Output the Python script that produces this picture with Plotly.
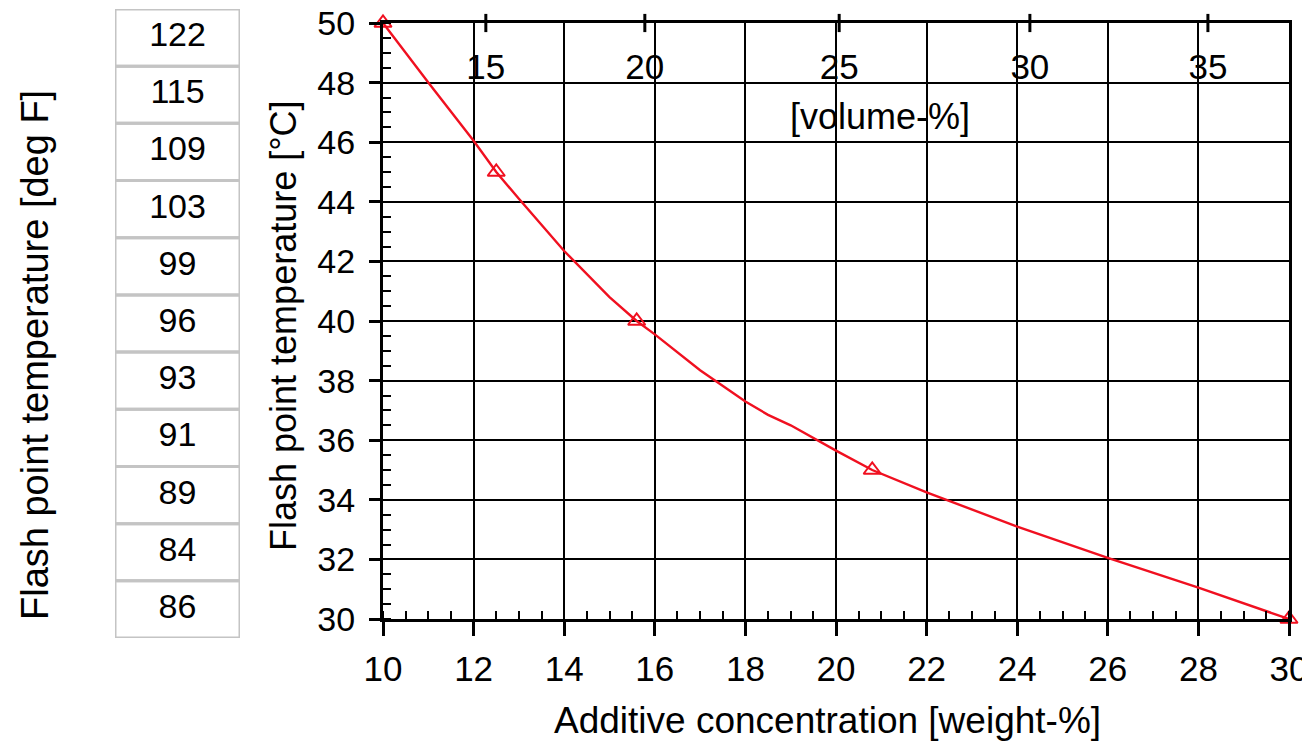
import plotly.graph_objects as go

# ---- data ----
curve_wt = [10, 11, 12, 12.5, 13, 14, 15, 15.6, 16, 17, 18, 18.5, 19, 20, 20.8, 22, 24, 26, 28, 30]
curve_temp = [50, 48, 46.05, 45, 44.1, 42.35, 40.8, 40, 39.55, 38.35, 37.3, 36.85, 36.5, 35.65, 35,
              34.25, 33.1, 32.05, 31.05, 30]
marker_wt = [10, 12.5, 15.6, 20.8, 30]
marker_temp = [50, 45, 40, 35, 30]
vol_labels = ["15", "20", "25", "30", "35"]
vol_pos_wt = [12.27, 15.78, 20.07, 24.28, 28.21]
degF_values = [122, 115, 109, 103, 99, 96, 93, 91, 89, 84, 86]

FONT = "Liberation Sans, Arial, sans-serif"
NARROW = "Liberation Sans Narrow, Arial Narrow, Liberation Sans, Arial, sans-serif"

# the page body has an 8px margin; lay the figure out in the visible area
OFF = 8
W, H = 1310 - OFF, 742 - OFF


def px(x):
    return min(1.0, max(0.0, (x - OFF) / W))


def py(y):
    return min(1.0, max(0.0, 1 - (y - OFF) / H))


RED = "#f01020"
fig = go.Figure()

# main curve
fig.add_trace(go.Scatter(x=curve_wt, y=curve_temp, mode="lines",
                         line=dict(color=RED, width=2.4), hoverinfo="skip",
                         showlegend=False, cliponaxis=False))
fig.add_trace(go.Scatter(x=marker_wt, y=marker_temp, mode="markers",
                         marker=dict(symbol="triangle-up-open", size=15,
                                     color=RED, line=dict(width=2, color=RED)),
                         showlegend=False, cliponaxis=False))

# volume-% ticks ("+" marks on the top border) and labels
fig.add_trace(go.Scatter(x=vol_pos_wt, y=[50] * len(vol_pos_wt), mode="markers",
                         marker=dict(symbol="line-ns", size=13,
                                     line=dict(width=3, color="black")),
                         showlegend=False, cliponaxis=False, hoverinfo="skip"))
fig.add_trace(go.Scatter(x=vol_pos_wt, y=[48.42] * len(vol_pos_wt), mode="text",
                         text=vol_labels, textposition="middle center",
                         textfont=dict(family=FONT, size=35, color="black"),
                         showlegend=False, hoverinfo="skip"))

# deg F table
rows = list(range(len(degF_values)))
fig.add_trace(go.Scatter(x=[0.5] * len(rows), y=[r + 0.5 for r in rows], mode="text",
                         text=[str(v) for v in degF_values], textposition="middle center",
                         textfont=dict(family=NARROW, size=34, color="black"),
                         xaxis="x3", yaxis="y3", showlegend=False, hoverinfo="skip"))
shapes = []
for r in rows:
    shapes.append(dict(type="rect", xref="x3", yref="y3", x0=0, x1=1, y0=r, y1=r + 1,
                       line=dict(color="#c4c4c4", width=3), layer="above"))

xdom = [px(383), px(1289)]
ydom = [py(619), py(23)]

fig.update_layout(
    width=W, height=H,
    margin=dict(l=0, r=0, t=0, b=0),
    paper_bgcolor="white", plot_bgcolor="white",
    font=dict(family=FONT, size=35, color="black"),
    shapes=shapes,
    xaxis=dict(domain=xdom, range=[10, 30], dtick=2, tick0=10,
               showgrid=True, gridcolor="black", gridwidth=2,
               showline=True, linecolor="black", linewidth=3, mirror=True,
               ticks="outside", ticklen=14, tickwidth=3, tickcolor="black",
               ticklabelstandoff=3, ticklabeloverflow="allow",
               minor=dict(ticks="inside", dtick=0.5, ticklen=8, tickwidth=2,
                          tickcolor="black", showgrid=False),
               tickfont=dict(family=FONT, size=35, color="black"),
               zeroline=False, automargin=False, fixedrange=True),
    yaxis=dict(domain=ydom, range=[30, 50], dtick=2, tick0=30,
               showgrid=True, gridcolor="black", gridwidth=2,
               showline=True, linecolor="black", linewidth=3, mirror=True,
               ticks="outside", ticklen=11, tickwidth=2.5, tickcolor="black",
               ticklabelstandoff=7, ticklabeloverflow="allow",
               minor=dict(ticks="inside", dtick=0.5, ticklen=8, tickwidth=2,
                          tickcolor="black", showgrid=False),
               tickfont=dict(family=FONT, size=34, color="black"),
               zeroline=False, automargin=False, fixedrange=True),
    xaxis3=dict(domain=[px(115), px(240)], range=[0, 1], visible=False, anchor="y3"),
    yaxis3=dict(domain=[py(638), py(9)], range=[len(degF_values), 0],
                visible=False, anchor="x3"),
    annotations=[
        dict(text="[volume-%]", xref="x", yref="y", x=20.97, y=46.85, showarrow=False,
             font=dict(family=FONT, size=36, color="black")),
        dict(text="Flash point temperature [deg F]", xref="paper", yref="paper",
             x=px(35), y=py(355), textangle=-90, showarrow=False,
             xanchor="center", yanchor="middle",
             font=dict(family=FONT, size=38, color="black")),
        dict(text="Flash point temperature [°C]", xref="paper", yref="paper",
             x=px(283), y=py(326), textangle=-90, showarrow=False,
             xanchor="center", yanchor="middle",
             font=dict(family=FONT, size=36, color="black")),
        dict(text="Additive concentration [weight-%]", xref="paper", yref="paper",
             x=px(827), y=py(720), showarrow=False,
             xanchor="center", yanchor="middle",
             font=dict(family=FONT, size=37, color="black")),
    ],
)

fig.write_html("out.html")
